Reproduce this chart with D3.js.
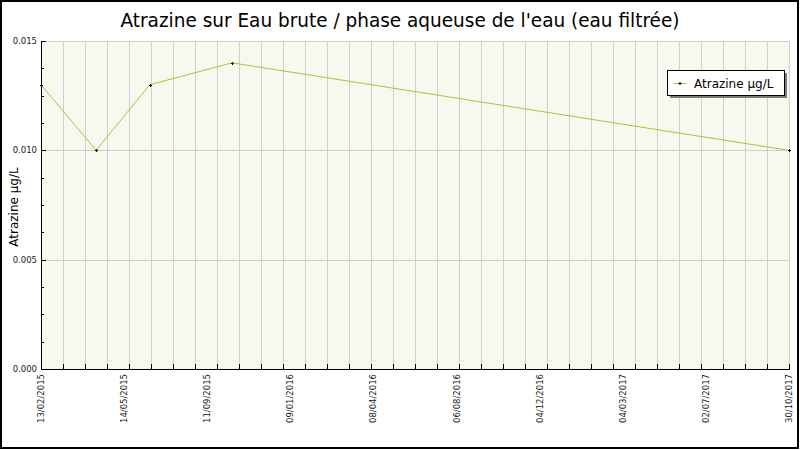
<!DOCTYPE html>
<html>
<head>
<meta charset="utf-8">
<script src="https://cdn.jsdelivr.net/npm/d3@7"></script>
<style>
  body { margin: 0; background: #fff; }
  text { font-family: "DejaVu Sans", sans-serif; }
</style>
</head>
<body>
<svg id="chart" width="800" height="450"></svg>
<script>
// data
const seriesName = "Atrazine µg/L";
const sampleDates = ["2015-02-13", "2015-04-27", "2015-07-07", "2015-10-24", "2017-10-30"];
const atrazine = [0.013, 0.010, 0.013, 0.014, 0.010];
const xTickLabels = ["13/02/2015", "14/05/2015", "11/09/2015", "09/01/2016", "08/04/2016",
                     "06/08/2016", "04/12/2016", "04/03/2017", "02/07/2017", "30/10/2017"];
const yTicks = [0, 0.005, 0.010, 0.015];

const parse = d3.timeParse("%Y-%m-%d");
const data = sampleDates.map((d, i) => ({ date: parse(d), value: atrazine[i] }));

const svg = d3.select("#chart");
const pLeft = 41, pRight = 789, pTop = 41, pBottom = 369;

const start = data[0].date, end = data[data.length - 1].date;
const x = d3.scaleTime().domain([start, end]).range([pLeft, pRight]);
const y = d3.scaleLinear().domain([0, 0.015]).range([pBottom, pTop]);

svg.append("rect").attr("width", 800).attr("height", 450).attr("fill", "#fff");

// plot background
svg.append("rect")
  .attr("x", pLeft).attr("y", pTop)
  .attr("width", pRight - pLeft).attr("height", pBottom - pTop)
  .attr("fill", "#f8f8ef");

// vertical grid: 34 even steps
const span = end - start;
const gridDates = d3.range(35).map(i => new Date(+start + i * span / 34));
svg.append("g").selectAll("line").data(gridDates).join("line")
  .attr("x1", d => Math.round(x(d)) + 0.5).attr("x2", d => Math.round(x(d)) + 0.5)
  .attr("y1", pTop).attr("y2", pBottom)
  .attr("stroke", "#cfcfcf");

// horizontal grid
svg.append("g").selectAll("line").data(yTicks.slice(1)).join("line")
  .attr("x1", pLeft).attr("x2", pRight)
  .attr("y1", d => Math.round(y(d)) + 0.5).attr("y2", d => Math.round(y(d)) + 0.5)
  .attr("stroke", "#cfcfcf");

// axes lines
svg.append("line").attr("x1", pLeft + 0.5).attr("x2", pLeft + 0.5)
  .attr("y1", pTop).attr("y2", pBottom + 1).attr("stroke", "#000");
svg.append("line").attr("x1", pLeft).attr("x2", pRight + 1)
  .attr("y1", pBottom + 0.5).attr("y2", pBottom + 0.5).attr("stroke", "#000");

// y ticks (major + minor, inside)
const yMinor = d3.range(0, 0.0151, 0.00125);
svg.append("g").selectAll("line").data(yMinor).join("line")
  .attr("x1", pLeft).attr("x2", (d, i) => pLeft + (i % 4 === 0 ? 5 : 3))
  .attr("y1", d => Math.round(y(d)) + 0.5).attr("y2", d => Math.round(y(d)) + 0.5)
  .attr("stroke", "#000");
svg.append("g").selectAll("text").data(yTicks).join("text")
  .attr("x", pLeft - 4).attr("y", d => y(d) + 3)
  .attr("text-anchor", "end")
  .attr("font-size", 8.5).attr("fill", "#222")
  .text(d3.format(".3f"));

// x ticks
svg.append("g").selectAll("line").data(gridDates).join("line")
  .attr("x1", d => Math.round(x(d)) + 0.5).attr("x2", d => Math.round(x(d)) + 0.5)
  .attr("y1", pBottom).attr("y2", pBottom - 5)
  .attr("stroke", "#000");

const labelDates = xTickLabels.map((l, i) => ({ label: l, date: new Date(+start + i * span / 9) }));
svg.append("g").selectAll("text").data(labelDates).join("text")
  .attr("transform", d => `translate(${x(d.date) + 3},${pBottom + 5}) rotate(-90)`)
  .attr("text-anchor", "end")
  .attr("font-size", 8.5).attr("fill", "#222")
  .text(d => d.label);

// series
svg.append("path").datum(data)
  .attr("fill", "none").attr("stroke", "#9acd32").attr("stroke-width", 1)
  .attr("d", d3.line().x(d => x(d.date)).y(d => y(d.value)));

svg.append("g").selectAll("path").data(data).join("path")
  .attr("d", d => {
    const cx = Math.round(x(d.date)) + 0.5, cy = Math.round(y(d.value)) + 0.5;
    return `M${cx - 1.5},${cy}H${cx + 1.5}M${cx},${cy - 1.5}V${cy + 1.5}`;
  })
  .attr("stroke", "#000").attr("stroke-width", 1);

// titles
svg.append("text")
  .attr("x", 400).attr("y", 27)
  .attr("text-anchor", "middle")
  .attr("font-size", 19)
  .attr("textLength", 559).attr("lengthAdjust", "spacingAndGlyphs")
  .attr("fill", "#000")
  .text("Atrazine sur Eau brute / phase aqueuse de l'eau (eau filtrée)");

svg.append("text")
  .attr("transform", `translate(18,${(pTop + pBottom) / 2 + 2}) rotate(-90)`)
  .attr("text-anchor", "middle")
  .attr("font-size", 12).attr("fill", "#000")
  .text(seriesName);

// legend
const lg = svg.append("g").attr("transform", "translate(667,70)");
lg.append("rect").attr("x", 3).attr("y", 3).attr("width", 117).attr("height", 25).attr("fill", "#7a7a7a");
lg.append("rect").attr("x", 0.5).attr("y", 0.5).attr("width", 117).attr("height", 25)
  .attr("fill", "#fff").attr("stroke", "#000");
lg.append("line").attr("x1", 7).attr("x2", 19).attr("y1", 13.5).attr("y2", 13.5)
  .attr("stroke", "#9acd32");
lg.append("path").attr("d", "M11.5,13.5H14.5M13,12V15").attr("stroke", "#000");
lg.append("text").attr("x", 27).attr("y", 17.5)
  .attr("font-size", 12).attr("fill", "#000")
  .text(seriesName);

// outer frame
svg.append("rect").attr("x", 1).attr("y", 1).attr("width", 797).attr("height", 447)
  .attr("fill", "none").attr("stroke", "#000").attr("stroke-width", 2);
</script>
</body>
</html>
